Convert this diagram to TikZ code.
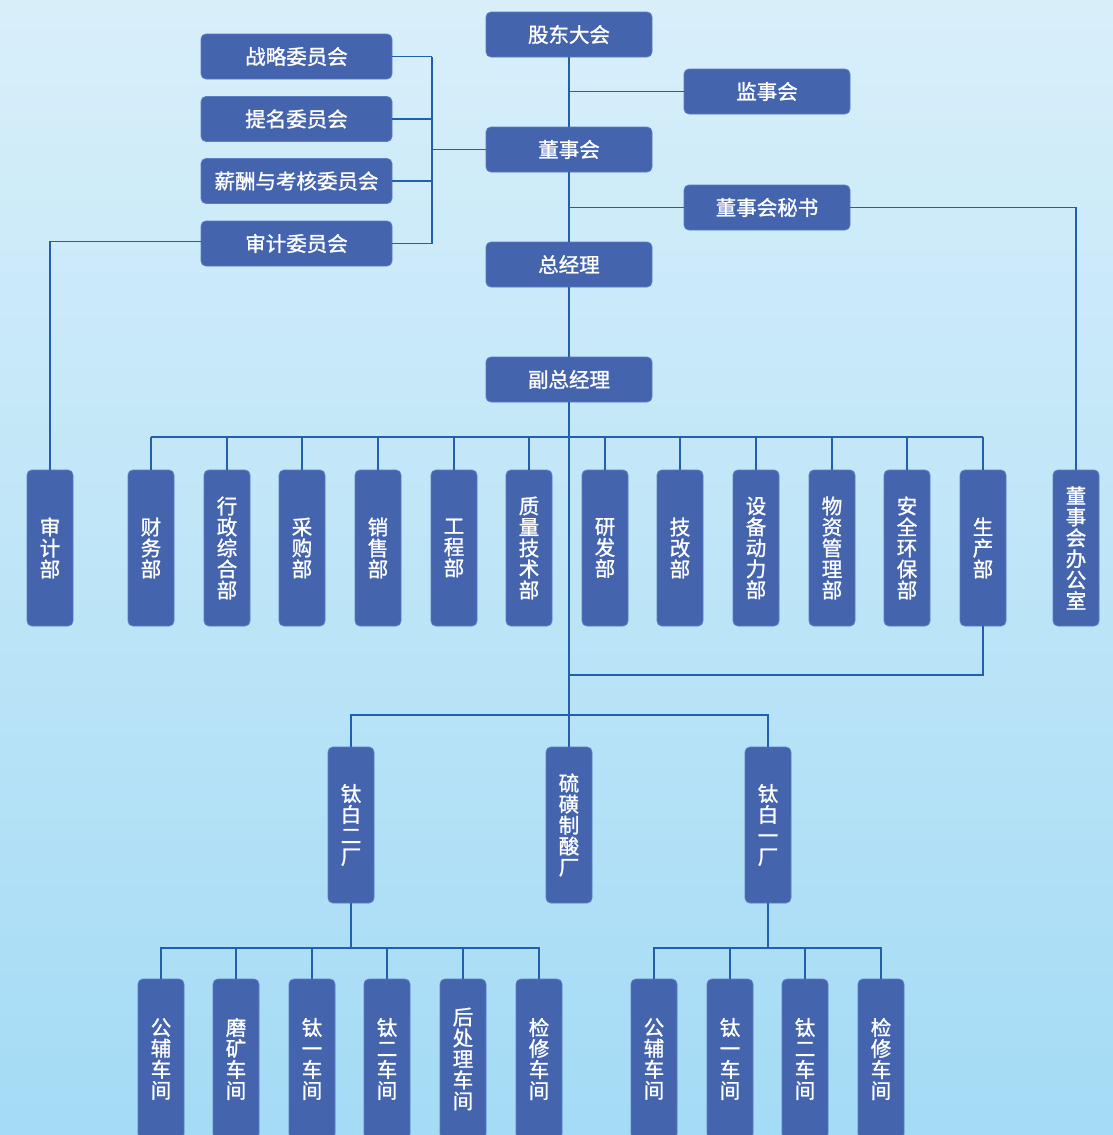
\documentclass[tikz,border=0pt]{standalone}
\usepackage{fontspec}
\newfontfamily\cjk[FakeBold=1.2]{Noto Sans CJK SC}
\definecolor{boxblue}{RGB}{68,100,173}
\definecolor{boxedge}{RGB}{90,125,195}
\definecolor{linec}{RGB}{35,95,175}
\definecolor{bgtop}{RGB}{216,239,250}
\definecolor{bgbot}{RGB}{164,219,245}
\tikzset{
  base/.style={fill=boxblue, draw=boxedge, line width=0.8pt, rounded corners=5pt, text=white, inner sep=0pt, font=\cjk\fontsize{20.5}{21}\selectfont, align=center},
  hbox/.style={base, minimum width=166pt, minimum height=45pt},
  cbox/.style={base, minimum width=191pt, minimum height=45pt},
  vbox/.style={base, minimum width=46pt, minimum height=156pt},
  wbox/.style={base, minimum width=46pt, minimum height=160pt},
  conn/.style={draw=linec, line width=1.3pt},
}
\begin{document}
\begin{tikzpicture}[x=1pt,y=-1pt]
\useasboundingbox (0,0) rectangle (1113,1135);
\clip (0,0) rectangle (1113,1135);
\shade[top color=bgtop, bottom color=bgbot] (0,0) rectangle (1113,1135);

% top chain
\node[hbox] (gd) at (569,34.5) {股东大会};
\node[hbox] (js) at (767,91.5) {监事会};
\node[hbox] (dsh) at (569,149.5) {董事会};
\node[hbox] (ms) at (767,207.5) {董事会秘书};
\node[hbox] (zjl) at (569,264.5) {总经理};
\node[hbox] (fz) at (569,379.5) {副总经理};

% committees
\node[cbox] (zl) at (296.5,56.5) {战略委员会};
\node[cbox] (tm) at (296.5,119) {提名委员会};
\node[cbox] (xc) at (296.5,181) {薪酬与考核委员会};
\node[cbox] (sw) at (296.5,243.5) {审计委员会};

% departments
\node[vbox] (sjb) at (50,548) {审\\计\\部};
\node[vbox] (cw) at (151,548) {财\\务\\部};
\node[vbox] (xz) at (227,548) {行\\政\\综\\合\\部};
\node[vbox] (cg) at (302,548) {采\\购\\部};
\node[vbox] (xs) at (378,548) {销\\售\\部};
\node[vbox] (gc) at (454,548) {工\\程\\部};
\node[vbox] (zj) at (529,548) {质\\量\\技\\术\\部};
\node[vbox] (yf) at (605,548) {研\\发\\部};
\node[vbox] (jg) at (680,548) {技\\改\\部};
\node[vbox] (sb) at (756,548) {设\\备\\动\\力\\部};
\node[vbox] (wz) at (832,548) {物\\资\\管\\理\\部};
\node[vbox] (aq) at (907,548) {安\\全\\环\\保\\部};
\node[vbox] (sc) at (983,548) {生\\产\\部};
\node[vbox] (bgs) at (1076,548) {董\\事\\会\\办\\公\\室};

% factories
\node[vbox] (t2) at (351,825) {钛\\白\\二\\厂};
\node[vbox] (lh) at (569,825) {硫\\磺\\制\\酸\\厂};
\node[vbox] (t1) at (768,825) {钛\\白\\一\\厂};

% workshops
\node[wbox] (a1) at (161,1059) {公\\辅\\车\\间};
\node[wbox] (a2) at (236,1059) {磨\\矿\\车\\间};
\node[wbox] (a3) at (312,1059) {钛\\一\\车\\间};
\node[wbox] (a4) at (387,1059) {钛\\二\\车\\间};
\node[wbox] (a5) at (463,1059) {后\\处\\理\\车\\间};
\node[wbox] (a6) at (539,1059) {检\\修\\车\\间};
\node[wbox] (b1) at (654,1059) {公\\辅\\车\\间};
\node[wbox] (b2) at (730,1059) {钛\\一\\车\\间};
\node[wbox] (b3) at (805,1059) {钛\\二\\车\\间};
\node[wbox] (b4) at (881,1059) {检\\修\\车\\间};

% helper coordinates
\coordinate (cb) at (432,0);
\coordinate (db) at (0,437);
\coordinate (pr) at (0,675);
\coordinate (fb) at (0,715);
\coordinate (wb) at (0,948);
\coordinate (sa) at ([yshift=2pt]sw.west);

% main spine
\draw[conn] (gd.south) -- (dsh.north);
\draw[conn] (dsh.south) -- (zjl.north);
\draw[conn] (zjl.south) -- (fz.north);
\draw[conn] (fz.south) -- (lh.north);
% supervisors and secretary
\draw[conn] (js.west) -- (gd.south |- js.west);
\draw[conn] (ms.west) -- (gd.south |- ms.west);
\draw[conn] (ms.east) -- (bgs.north |- ms.east) -- (bgs.north);
% committees
\draw[conn] (zl.east) -- (cb |- zl.east);
\draw[conn] (tm.east) -- (cb |- tm.east);
\draw[conn] (xc.east) -- (cb |- xc.east);
\draw[conn] (sw.east) -- (cb |- sw.east);
\draw[conn] (cb |- zl.east) -- (cb |- sw.east);
\draw[conn] (cb |- dsh.west) -- (dsh.west);
\draw[conn] (sa) -- (sjb.north |- sa) -- (sjb.north);
% department bus
\draw[conn] (cw.north |- db) -- (sc.north |- db);
\foreach \d in {cw,xz,cg,xs,gc,zj,yf,jg,sb,wz,aq,sc}
  \draw[conn] (\d.north) -- (\d.north |- db);
% production return
\draw[conn] (sc.south) -- (sc.south |- pr) -- (fz.south |- pr);
% factory bus
\draw[conn] (t2.north) -- (t2.north |- fb) -- (t1.north |- fb) -- (t1.north);
% workshop buses
\draw[conn] (t2.south) -- (t2.south |- wb);
\draw[conn] (a1.north) -- (a1.north |- wb) -- (a6.north |- wb) -- (a6.north);
\foreach \d in {a2,a3,a4,a5}
  \draw[conn] (\d.north) -- (\d.north |- wb);
\draw[conn] (t1.south) -- (t1.south |- wb);
\draw[conn] (b1.north) -- (b1.north |- wb) -- (b4.north |- wb) -- (b4.north);
\foreach \d in {b2,b3}
  \draw[conn] (\d.north) -- (\d.north |- wb);
\end{tikzpicture}
\end{document}
